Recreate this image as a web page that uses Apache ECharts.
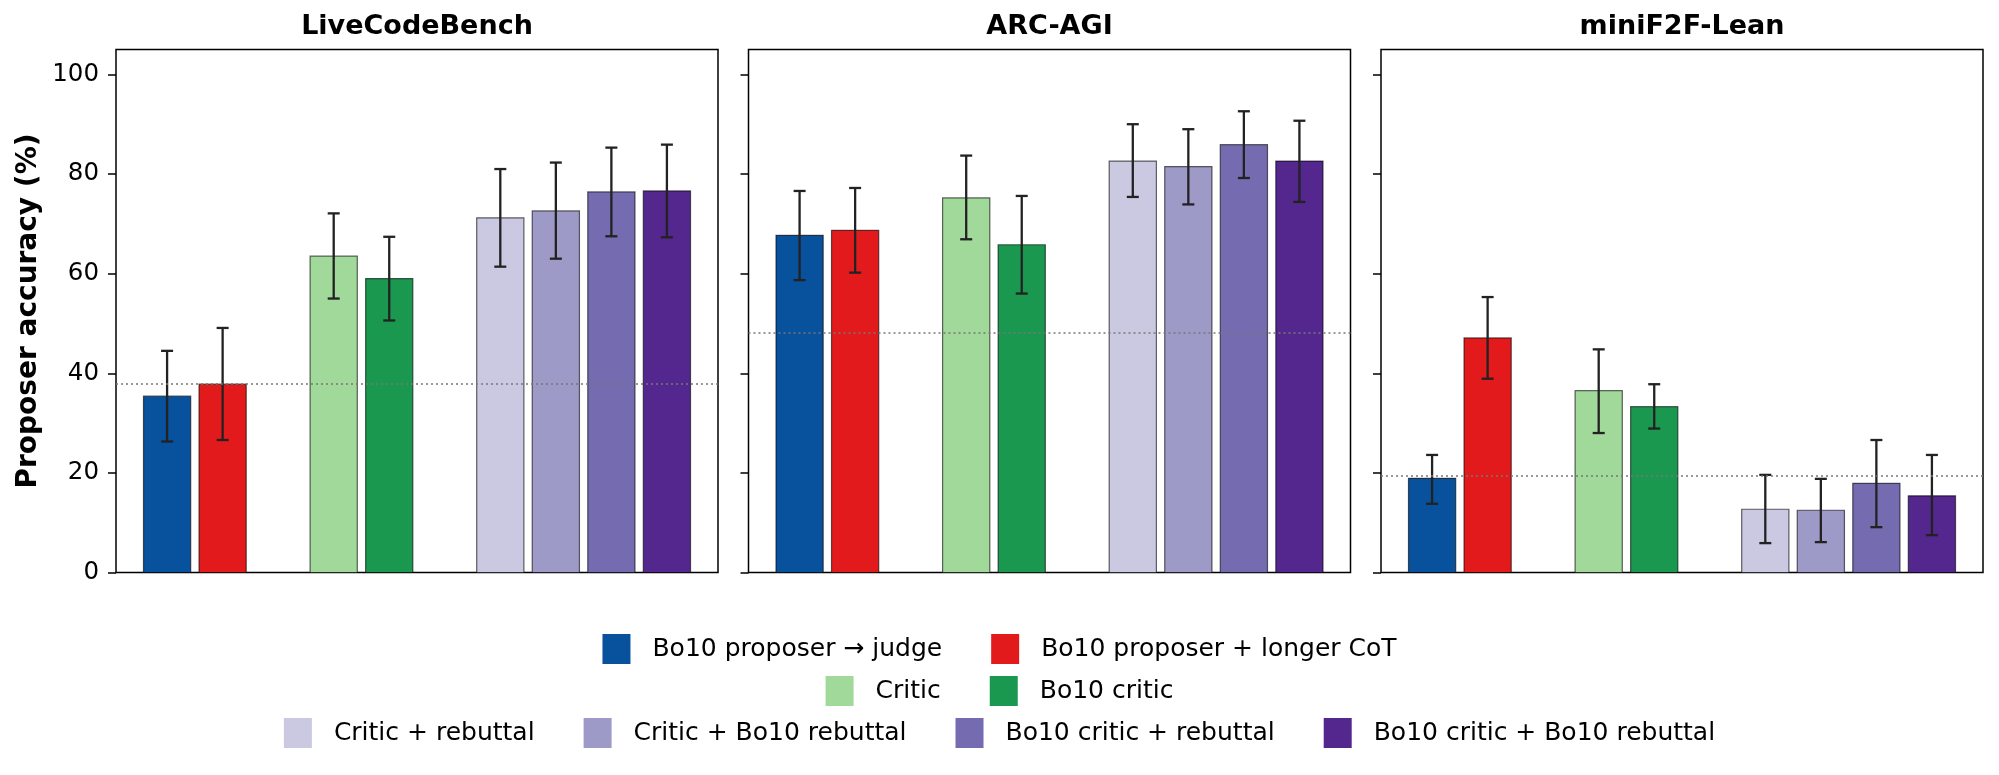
<!DOCTYPE html>
<html>
<head>
<meta charset="utf-8">
<script src="https://cdn.jsdelivr.net/npm/echarts@6/dist/echarts.min.js"></script>
<style>
  html, body { margin: 0; padding: 0; background: #fff; }
  #main { width: 1999px; height: 775px; }
</style>
</head>
<body>
<div id="main"></div>
<script>
// panels and methods
var panelNames = ['LiveCodeBench', 'ARC-AGI', 'miniF2F-Lean'];
var methodNames = [
    'Bo10 proposer \u2192 judge', 'Bo10 proposer + longer CoT',
    'Critic', 'Bo10 critic',
    'Critic + rebuttal', 'Critic + Bo10 rebuttal', 'Bo10 critic + rebuttal', 'Bo10 critic + Bo10 rebuttal'
];
var methodColors = ['#08519c', '#e31a1c', '#a1d99b', '#1a9850', '#cbc9e2', '#9e9ac8', '#756bb1', '#54278f'];
// bar slots (2 + gap + 2 + gap + 4)
var barSlots = [0, 1, 3, 4, 6, 7, 8, 9];
var yTicks = [0, 20, 40, 60, 80, 100];

// LiveCodeBench
var lcbAcc  = [35.4, 37.8, 63.5, 59.0, 71.2, 72.6, 76.4, 76.6];
var lcbLow  = [26.3, 26.6, 55.0, 50.6, 61.4, 63.0, 67.5, 67.3];
var lcbHigh = [44.5, 49.1, 72.1, 67.4, 81.0, 82.3, 85.3, 85.9];
// ARC-AGI
var arcAcc  = [67.7, 68.7, 75.2, 65.8, 82.6, 81.5, 85.9, 82.6];
var arcLow  = [58.7, 60.2, 66.9, 56.0, 75.4, 73.9, 79.2, 74.4];
var arcHigh = [76.6, 77.2, 83.7, 75.6, 90.0, 89.0, 92.6, 90.7];
// miniF2F-Lean
var f2fAcc  = [18.9, 47.1, 36.5, 33.3, 12.7, 12.5, 17.9, 15.4];
var f2fLow  = [13.8, 38.9, 28.0, 28.9, 5.9, 6.1, 9.1, 7.5];
var f2fHigh = [23.6, 55.3, 44.8, 37.8, 19.6, 18.8, 26.6, 23.6];
// dotted reference line per panel
var baselines = [37.8, 48.2, 19.5];

var accs = [lcbAcc, arcAcc, f2fAcc];
var lows = [lcbLow, arcLow, f2fLow];
var highs = [lcbHigh, arcHigh, f2fHigh];

var font = 'DejaVu Sans';
var gridLeft = [116, 748.5, 1381];
var gridWidth = 602;
var gridTop = 49.5;
var gridHeight = 523;

// bar + error bar
function renderBar(params, api)
{
    var x = api.value(0), y = api.value(1), lo = api.value(2), hi = api.value(3);
    var tl = api.coord([x - 0.425, y]);
    var br = api.coord([x + 0.425, 0]);
    var c = api.coord([x, y])[0];
    var yLo = api.coord([x, lo])[1];
    var yHi = api.coord([x, hi])[1];
    var cap = 6;
    var err = {stroke: '#222', lineWidth: 2.3};
    return {
        type: 'group',
        children: [
            {type: 'rect', shape: {x: tl[0], y: tl[1], width: br[0] - tl[0], height: br[1] - tl[1]},
             style: {fill: api.visual('color'), stroke: 'rgba(0,0,0,0.6)', lineWidth: 1.2}},
            {type: 'line', shape: {x1: c, y1: yLo, x2: c, y2: yHi}, style: err},
            {type: 'line', shape: {x1: c - cap, y1: yLo, x2: c + cap, y2: yLo}, style: err},
            {type: 'line', shape: {x1: c - cap, y1: yHi, x2: c + cap, y2: yHi}, style: err}
        ]
    };
}

var grids = [], xAxes = [], yAxes = [], titles = [], series = [];

for (var p = 0; p < panelNames.length; p++)
{
    grids.push({
        left: gridLeft[p], top: gridTop, width: gridWidth, height: gridHeight,
        show: true, borderColor: '#000', borderWidth: 1.5, backgroundColor: 'transparent'
    });
    xAxes.push({
        type: 'value', gridIndex: p, min: -0.92, max: 9.92,
        axisLine: {show: false, onZero: false}, axisTick: {show: false}, axisLabel: {show: false}, splitLine: {show: false}
    });
    yAxes.push({
        type: 'value', gridIndex: p, min: 0, max: 105, interval: 20,
        name: p === 0 ? 'Proposer accuracy (%)' : '',
        nameLocation: 'middle', nameRotate: 90, nameGap: 73,
        nameTextStyle: {fontFamily: font, fontSize: 28, fontWeight: 'bold', color: '#000'},
        axisLine: {show: false, onZero: false},
        axisTick: {show: true, length: 8, customValues: yTicks, lineStyle: {color: '#000', width: 1.5}},
        axisLabel: {show: p === 0, customValues: yTicks, margin: 17, fontFamily: font, fontSize: 24.5, color: '#000'},
        splitLine: {show: false}
    });
    titles.push({
        text: panelNames[p],
        left: gridLeft[p] + gridWidth / 2, top: 13, textAlign: 'center', padding: 0,
        textStyle: {fontFamily: font, fontSize: 27, fontWeight: 'bold', color: '#000'}
    });

    // dotted reference line behind the bars
    series.push({
        type: 'line', xAxisIndex: p, yAxisIndex: p, data: [], z: 1, silent: true,
        markLine: {
            silent: true, symbol: 'none', label: {show: false},
            lineStyle: {color: '#777', type: [2, 3], width: 1.6},
            data: [{yAxis: baselines[p]}]
        }
    });

    for (var m = 0; m < methodNames.length; m++)
    {
        series.push({
            type: 'custom', name: methodNames[m], xAxisIndex: p, yAxisIndex: p, z: 3,
            itemStyle: {color: methodColors[m]},
            renderItem: renderBar,
            data: [[barSlots[m], accs[p][m], lows[p][m], highs[p][m]]]
        });
    }
}

function legendRow(names, top)
{
    return {
        data: names, top: top, left: 'center', orient: 'horizontal',
        padding: [0, 0, 0, 7], itemGap: 49, itemWidth: 28, itemHeight: 30, icon: 'rect',
        selectedMode: false,
        itemStyle: {borderWidth: 0},
        textStyle: {fontFamily: font, fontSize: 25, color: '#000', padding: [0, 0, 0, 17]}
    };
}

var myChart = echarts.init(document.getElementById('main'));
myChart.setOption({
    backgroundColor: '#fff',
    animation: false,
    title: titles,
    grid: grids,
    xAxis: xAxes,
    yAxis: yAxes,
    legend: [
        legendRow(methodNames.slice(0, 2), 634),
        legendRow(methodNames.slice(2, 4), 676),
        legendRow(methodNames.slice(4, 8), 718)
    ],
    series: series
});
</script>
</body>
</html>
